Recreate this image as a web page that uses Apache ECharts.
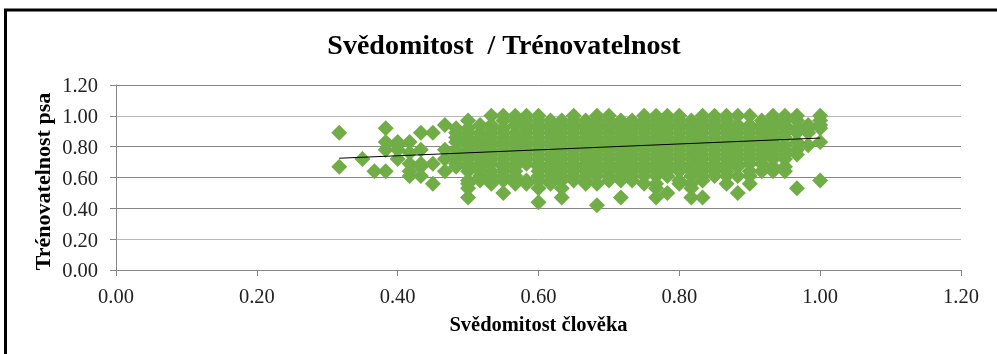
<!DOCTYPE html>
<html><head><meta charset="utf-8">
<style>html,body{margin:0;padding:0;background:#fff}#c{width:997px;height:354px}</style>
<script src="https://cdn.jsdelivr.net/npm/echarts@6/dist/echarts.min.js"></script>
</head><body><div id="c"></div>
<script>
const titleText = 'Svědomitost  / Trénovatelnost';
const xName = 'Svědomitost člověka';
const yName = 'Trénovatelnost psa';
const trendX = [0.317, 1.0];
const trendY = [0.725, 0.856];
const columnX = [0.317,0.35,0.367,0.383,0.4,0.417,0.433,0.45,0.467,0.483,0.5,0.517,0.533,0.55,0.567,0.583,0.6,0.617,0.633,0.65,0.667,0.683,0.7,0.717,0.733,0.75,0.767,0.783,0.8,0.817,0.833,0.85,0.867,0.883,0.9,0.917,0.933,0.95,0.967,0.983,1.0];
const columnY = [
 [0.89,0.67],
 [0.72],
 [0.64],
 [0.92,0.83,0.78,0.64],
 [0.83,0.81,0.78,0.72],
 [0.83,0.76,0.69,0.64,0.61],
 [0.89,0.78,0.69,0.67,0.61],
 [0.89,0.69,0.56],
 [0.94,0.78,0.72,0.64],
 [0.92,0.89,0.86,0.83,0.78,0.75,0.72,0.69,0.67],
 [0.97,0.92,0.89,0.86,0.83,0.81,0.78,0.75,0.72,0.69,0.67,0.64,0.58,0.56,0.53,0.47],
 [0.94,0.89,0.86,0.83,0.81,0.78,0.75,0.72,0.69,0.67,0.64,0.61,0.58],
 [1.00,0.94,0.92,0.89,0.86,0.83,0.81,0.78,0.75,0.72,0.69,0.64,0.61,0.58,0.56],
 [1.00,0.97,0.92,0.89,0.86,0.83,0.81,0.78,0.75,0.72,0.69,0.67,0.64,0.61,0.58,0.50],
 [1.00,0.97,0.94,0.89,0.86,0.83,0.81,0.78,0.75,0.72,0.69,0.67,0.64,0.61,0.58,0.56],
 [1.00,0.97,0.94,0.92,0.89,0.86,0.83,0.81,0.78,0.75,0.72,0.69,0.58,0.56],
 [1.00,0.97,0.94,0.92,0.89,0.86,0.83,0.81,0.78,0.75,0.72,0.69,0.67,0.64,0.61,0.58,0.53,0.44],
 [0.97,0.94,0.92,0.89,0.86,0.83,0.81,0.78,0.75,0.72,0.69,0.67,0.64,0.61,0.58,0.56],
 [0.97,0.94,0.92,0.89,0.86,0.83,0.81,0.78,0.75,0.72,0.69,0.67,0.64,0.61,0.58,0.53,0.47],
 [1.00,0.97,0.94,0.92,0.89,0.86,0.83,0.81,0.78,0.75,0.72,0.69,0.67,0.64,0.61,0.58],
 [0.97,0.94,0.92,0.89,0.86,0.83,0.81,0.78,0.75,0.72,0.69,0.67,0.64,0.61,0.58,0.56],
 [1.00,0.97,0.94,0.92,0.89,0.86,0.83,0.81,0.78,0.75,0.72,0.69,0.67,0.64,0.61,0.56,0.42],
 [1.00,0.97,0.94,0.92,0.89,0.86,0.83,0.81,0.78,0.75,0.72,0.69,0.67,0.64,0.61,0.58],
 [0.97,0.94,0.92,0.89,0.86,0.83,0.81,0.78,0.75,0.72,0.69,0.67,0.64,0.61,0.58,0.47],
 [0.97,0.94,0.92,0.89,0.86,0.83,0.81,0.78,0.75,0.72,0.69,0.67,0.64,0.61,0.58],
 [1.00,0.97,0.94,0.92,0.89,0.86,0.83,0.81,0.78,0.75,0.72,0.69,0.67,0.64,0.61,0.56],
 [1.00,0.97,0.94,0.92,0.89,0.86,0.83,0.81,0.78,0.75,0.72,0.69,0.67,0.64,0.61,0.56,0.53,0.47],
 [1.00,0.97,0.94,0.92,0.89,0.86,0.83,0.81,0.78,0.75,0.72,0.69,0.67,0.64,0.61,0.50],
 [1.00,0.97,0.94,0.92,0.89,0.86,0.83,0.81,0.78,0.75,0.72,0.69,0.67,0.64,0.58,0.56],
 [0.97,0.94,0.92,0.89,0.86,0.83,0.81,0.78,0.75,0.72,0.69,0.67,0.64,0.61,0.56,0.53,0.47],
 [1.00,0.97,0.94,0.92,0.89,0.86,0.83,0.81,0.78,0.75,0.72,0.69,0.67,0.64,0.61,0.58,0.47],
 [1.00,0.97,0.94,0.92,0.89,0.86,0.83,0.81,0.78,0.75,0.72,0.69,0.67,0.64,0.61],
 [1.00,0.97,0.94,0.92,0.89,0.86,0.83,0.81,0.78,0.75,0.72,0.69,0.67,0.64,0.61,0.56],
 [1.00,0.94,0.92,0.89,0.86,0.83,0.81,0.78,0.75,0.72,0.69,0.67,0.61,0.50],
 [1.00,0.94,0.92,0.89,0.86,0.83,0.81,0.78,0.75,0.72,0.69,0.64,0.61,0.56],
 [0.97,0.94,0.92,0.89,0.86,0.83,0.81,0.78,0.75,0.72,0.69,0.64],
 [1.00,0.97,0.94,0.92,0.89,0.86,0.83,0.81,0.78,0.75,0.72,0.67,0.64],
 [1.00,0.97,0.94,0.92,0.89,0.86,0.81,0.78,0.75,0.72,0.67,0.64],
 [1.00,0.97,0.92,0.89,0.83,0.78,0.75,0.53],
 [0.94,0.92,0.89,0.81],
 [1.00,0.97,0.94,0.92,0.83,0.58]
];
const serif = '"Liberation Serif", serif';
const points = [];
columnX.forEach((x,i)=>columnY[i].forEach(y=>points.push([x,y])));
const chart = echarts.init(document.getElementById('c'),null,{renderer:'canvas'});
const axisGrey = '#868686';
chart.setOption({
 animation:false,
 backgroundColor:'#fff',
 title:{text:titleText,left:499,top:28,textAlign:'center',textStyle:{fontFamily:serif,fontWeight:'bold',fontSize:28,color:'#000'}},
 grid:{left:116,right:36,top:85,height:185},
 xAxis:{type:'value',min:0,max:1.2,interval:0.2,name:xName,nameLocation:'middle',nameGap:45,nameMoveOverlap:false,
  nameTextStyle:{fontFamily:serif,fontWeight:'bold',fontSize:20.5,color:'#000'},
  axisLine:{onZero:false,lineStyle:{color:axisGrey}},axisTick:{show:true,length:6,lineStyle:{color:axisGrey}},
  axisLabel:{fontFamily:serif,fontSize:20.5,color:'#222',margin:17,formatter:v=>v.toFixed(2)},
  splitLine:{show:false}},
 yAxis:{type:'value',min:0,max:1.2,interval:0.2,name:yName,nameLocation:'middle',nameGap:61,nameMoveOverlap:false,
  nameTextStyle:{fontFamily:serif,fontWeight:'bold',fontSize:22,color:'#000',padding:[0,8,0,0]},
  axisLine:{show:true,onZero:false,lineStyle:{color:axisGrey}},axisTick:{show:true,length:6,lineStyle:{color:axisGrey}},
  axisLabel:{fontFamily:serif,fontSize:20.5,color:'#222',margin:18,verticalAlign:'top',lineHeight:4,formatter:v=>v.toFixed(2)},
  splitLine:{show:true,lineStyle:{color:[axisGrey,'#b8b8b8',axisGrey,axisGrey,axisGrey,'#b8b8b8',axisGrey],width:1}}},
 series:[
  {type:'scatter',data:points,symbol:'diamond',symbolSize:16,itemStyle:{color:'#70AD47',opacity:1},z:2},
  {type:'line',data:trendX.map((x,i)=>[x,trendY[i]]),symbol:'none',lineStyle:{color:'#000',width:1},z:3}
 ],
 graphic:[
  {type:'line',shape:{x1:4,y1:10,x2:997,y2:10},style:{stroke:'#000',lineWidth:3},silent:true},
  {type:'line',shape:{x1:5.5,y1:9,x2:5.5,y2:354},style:{stroke:'#000',lineWidth:3},silent:true}
 ]
});
</script></body></html>
